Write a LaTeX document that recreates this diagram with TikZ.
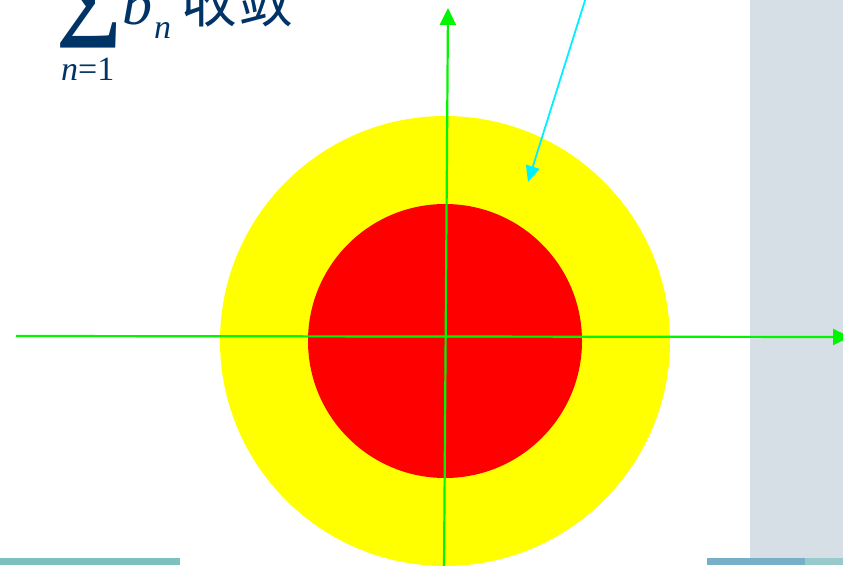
\documentclass[tikz,border=0pt]{standalone}
\usepackage{fontspec}
\setmainfont{Liberation Serif}
\newfontfamily\cjk{Noto Sans CJK SC}
\usetikzlibrary{arrows.meta}
\definecolor{txtblue}{RGB}{0,51,102}
\definecolor{axgreen}{RGB}{0,245,0}
\definecolor{ringyellow}{RGB}{255,255,0}
\definecolor{corered}{RGB}{255,0,0}
\definecolor{pointcyan}{RGB}{0,240,255}
\definecolor{panelgray}{RGB}{214,222,230}
\definecolor{stripteal}{RGB}{125,192,192}
\definecolor{stripblue}{RGB}{120,175,200}
\tikzset{
  axis/.style={draw=axgreen, line width=2.2pt, -{Triangle[length=17pt,width=16pt]}},
  pointer/.style={draw=pointcyan, line width=1.8pt, -{Triangle[length=16pt,width=14pt]}},
  formula/.style={text=txtblue, inner sep=0pt},
}
\begin{document}
\begin{tikzpicture}[x=1pt,y=-1pt]
\useasboundingbox (0,0) rectangle (843,565);
\begin{scope}
\clip (0,0) rectangle (843,565);
% decorative panels
\fill[panelgray] (750,0) rectangle (843,565);
\fill[stripteal] (0,558) rectangle (180,565);
\fill[stripblue] (707,558) rectangle (805,565);
\fill[stripteal!70!panelgray] (805,558) rectangle (843,565);
% circles
\fill[ringyellow] (445,341) circle[radius=225];
\fill[corered] (445,341) circle[radius=137];
% axes
\coordinate (hstart) at (16,336);
\coordinate (hend) at (850,337);
\coordinate (vstart) at (444,570);
\coordinate (vend) at (448,8);
\draw[axis] (hstart) -- (hend);
\draw[axis] (vstart) -- (vend);
% pointer arrow
\coordinate (pstart) at (587,-6);
\coordinate (pend) at (528,182);
\draw[pointer] (pstart) -- (pend);
% formula
\node[formula, font=\bfseries\fontsize{92}{92}\selectfont, anchor=south west] (sum) at (56,48) {∑};
\node[formula, font=\fontsize{34}{34}\selectfont, anchor=base west] (lim) at (61,80) {\textit{n}=1};
\node[formula, font=\itshape\fontsize{60}{60}\selectfont, anchor=base west] (b) at (122,24) {b};
\node[formula, font=\itshape\fontsize{34}{34}\selectfont, anchor=base west] (bn) at (154,38) {n};
\node[formula, font=\cjk\fontsize{56}{56}\selectfont, anchor=base west] (txt) at (181,22) {收敛};
\end{scope}
\end{tikzpicture}
\end{document}
